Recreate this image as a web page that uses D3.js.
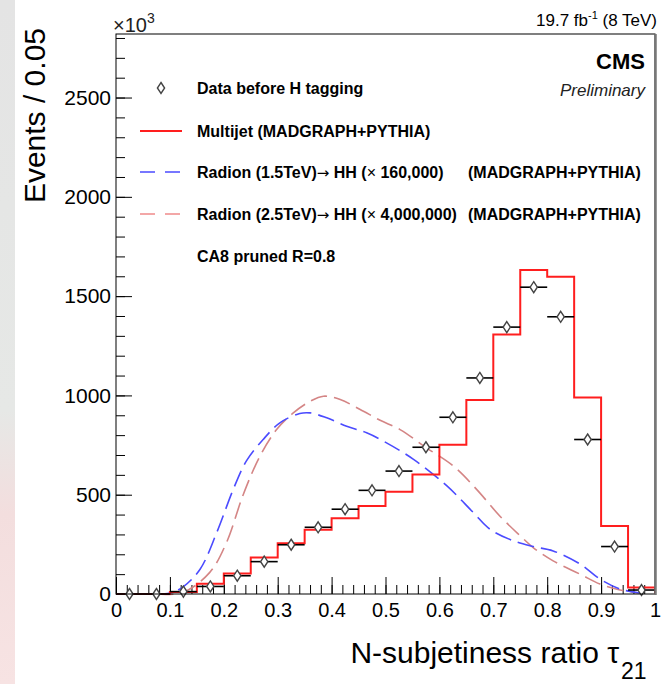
<!DOCTYPE html>
<html><head><meta charset="utf-8">
<script src="https://cdn.jsdelivr.net/npm/d3@7"></script>
<style>
html,body{margin:0;padding:0;background:#fff;}
svg text{font-family:"Liberation Sans",Arial,Helvetica,sans-serif;}
</style></head>
<body>
<svg id="c" width="664" height="684"></svg>
<script>
// ---- data (values in units of 10^3 events) ----
const binLows = [0,0.05,0.1,0.15,0.2,0.25,0.3,0.35,0.4,0.45,0.5,0.55,0.6,0.65,0.7,0.75,0.8,0.85,0.9,0.95];
const binWidth = 0.05;
const dataCounts = [0,0,12,38,92,163,248,336,427,522,619,739,890,1088,1344,1545,1396,778,239,20];
const multijet = [0,0,10,52,103,184,256,323,381,443,515,602,751,977,1307,1631,1598,990,343,33];
const radion15X = [0.072,0.1,0.124,0.156,0.187,0.218,0.242,0.273,0.304,0.341,0.36,0.391,0.428,0.465,0.496,0.552,0.614,0.663,0.694,0.737,0.774,0.811,0.861,0.898,0.935,0.972];
const radion15Y = [0,5,35,125,310,530,670,778,862,909,912,887,845,812,770,678,544,410,326,268,239,217,151,75,25,5];
const radion25X = [0.075,0.124,0.174,0.205,0.236,0.267,0.298,0.329,0.36,0.385,0.416,0.453,0.49,0.527,0.576,0.626,0.669,0.712,0.75,0.774,0.811,0.861,0.898,0.935,0.972];
const radion25Y = [0,8,109,259,500,694,828,912,970,996,979,929,875,828,736,644,527,393,293,234,167,100,50,20,5];
const yMajorTicks = [0,500,1000,1500,2000,2500];
const xMajorTicks = [0,0.1,0.2,0.3,0.4,0.5,0.6,0.7,0.8,0.9,1];
const legendLabels = ["Data before H tagging","Multijet (MADGRAPH+PYTHIA)","Radion (1.5TeV)","Radion (2.5TeV)"];

// ---- layout ----
const L=116, R=655, T=34, B=594;
const svg = d3.select("#c");
const x = d3.scaleLinear().domain([0,1]).range([L,R]);
const y = d3.scaleLinear().domain([0,2820]).range([B,T]);

// background strip (slide background)
const defs = svg.append("defs");
const g1 = defs.append("linearGradient").attr("id","bg").attr("x1",0).attr("x2",0).attr("y1",0).attr("y2",1);
g1.append("stop").attr("offset","0").attr("stop-color","#e4e4e4");
g1.append("stop").attr("offset","0.6").attr("stop-color","#e6e8e6");
g1.append("stop").attr("offset","0.75").attr("stop-color","#f3dede");
g1.append("stop").attr("offset","1").attr("stop-color","#f7e3e3");
svg.append("rect").attr("x",0).attr("y",0).attr("width",15).attr("height",684).attr("fill","url(#bg)");

// ---- axes ----
const yMinor = d3.range(0,2801,100);
svg.append("g").attr("transform",`translate(${L},0)`)
  .call(d3.axisLeft(y).tickValues(yMinor).tickSizeInner(-9).tickSizeOuter(0).tickFormat(""))
  .call(g=>g.select(".domain").remove());
svg.append("g").attr("transform",`translate(${L},0)`)
  .call(d3.axisLeft(y).tickValues(yMajorTicks).tickSizeInner(-16).tickSizeOuter(0).tickPadding(5).tickFormat(d3.format("d")))
  .call(g=>g.select(".domain").remove())
  .call(g=>g.selectAll("text").attr("font-size",21).attr("fill","#000").attr("font-family","Liberation Sans, Arial, sans-serif"));
const xMinor = d3.range(0,1.0001,0.02);
svg.append("g").attr("transform",`translate(0,${B})`)
  .call(d3.axisBottom(x).tickValues(xMinor).tickSizeInner(-9).tickSizeOuter(0).tickFormat(""))
  .call(g=>g.select(".domain").remove());
svg.append("g").attr("transform",`translate(0,${B})`)
  .call(d3.axisBottom(x).tickValues(xMajorTicks).tickSizeInner(-17).tickSizeOuter(0).tickPadding(9).tickFormat(d3.format("~g")))
  .call(g=>g.select(".domain").remove())
  .call(g=>g.selectAll("text").attr("font-size",20).attr("fill","#000").attr("font-family","Liberation Sans, Arial, sans-serif"));
svg.selectAll(".tick line").attr("stroke","#000").attr("stroke-width",1);

// ---- radion curves ----
const line = d3.line().x(d=>x(d[0])).y(d=>y(d[1])).curve(d3.curveCatmullRom.alpha(0.5));
const c25 = radion25X.map((v,i)=>[v,radion25Y[i]]);
const c15 = radion15X.map((v,i)=>[v,radion15Y[i]]);
svg.append("path").attr("d",line(c25)).attr("fill","none").attr("stroke","#d48585").attr("stroke-width",1.6).attr("stroke-dasharray","17,7");
svg.append("path").attr("d",line(c15)).attr("fill","none").attr("stroke","#4b4bff").attr("stroke-width",1.6).attr("stroke-dasharray","17,7");

// ---- multijet histogram ----
let pts = [[0,0]];
binLows.forEach((lo,i)=>{ pts.push([lo,multijet[i]]); pts.push([lo+binWidth,multijet[i]]); });
pts.push([1,0]);
svg.append("path").attr("d",d3.line().x(d=>x(d[0])).y(d=>y(d[1]))(pts))
  .attr("fill","none").attr("stroke","#ff1e1e").attr("stroke-width",2);

// ---- data points ----
const dp = svg.append("g");
binLows.forEach((lo,i)=>{
  dp.append("line").attr("x1",x(lo)).attr("x2",x(lo+binWidth)).attr("y1",y(dataCounts[i])).attr("y2",y(dataCounts[i]))
    .attr("stroke","#000").attr("stroke-width",1.6);
});
const diamond = (cx,cy)=>`M${cx},${cy-5.5}L${cx+3.6},${cy}L${cx},${cy+5.5}L${cx-3.6},${cy}Z`;
binLows.forEach((lo,i)=>{
  dp.append("path").attr("d",diamond(x(lo+binWidth/2),y(dataCounts[i])))
    .attr("fill","#fff").attr("stroke","#444").attr("stroke-width",1.4);
});

// ---- frame ----
svg.append("rect").attr("x",L).attr("y",T).attr("width",R-L).attr("height",B-T)
  .attr("fill","none").attr("stroke","#000").attr("stroke-width",1);
svg.append("line").attr("x1",R+0.5).attr("x2",R+0.5).attr("y1",T).attr("y2",B+1).attr("stroke","#777").attr("stroke-width",2.5);

// ---- texts ----
const t1 = svg.append("text").attr("x",657).attr("y",26).attr("text-anchor","end").attr("font-size",17);
t1.append("tspan").text("19.7 fb");
t1.append("tspan").attr("font-size",11).attr("dy",-7).text("-1");
t1.append("tspan").attr("dy",7).text(" (8 TeV)");
const t2 = svg.append("text").attr("x",113).attr("y",32).attr("font-size",20).attr("fill","#222");
t2.append("tspan").text("×10");
t2.append("tspan").attr("font-size",14).attr("dy",-9).text("3");

svg.append("text").attr("x",645).attr("y",69).attr("text-anchor","end").attr("font-size",22).attr("font-weight","bold").text("CMS");
svg.append("text").attr("x",645).attr("y",96).attr("text-anchor","end").attr("font-size",17).attr("font-style","italic").attr("fill","#222").text("Preliminary");

svg.append("text").attr("transform","translate(45,28) rotate(-90)").attr("text-anchor","end").attr("font-size",30).text("Events / 0.05");
svg.append("text").attr("x",619).attr("y",663).attr("text-anchor","end").attr("font-size",30).text("N-subjetiness ratio τ");
svg.append("text").attr("x",621).attr("y",679).attr("font-size",23).text("21");

// ---- legend ----
const lg = svg.append("g").attr("font-size",16).attr("font-weight","bold");
lg.append("path").attr("d",diamond(161,88)).attr("fill","#fff").attr("stroke","#444").attr("stroke-width",1.4);
lg.append("text").attr("x",197).attr("y",94).text(legendLabels[0]);
lg.append("line").attr("x1",140).attr("x2",182).attr("y1",131).attr("y2",131).attr("stroke","#ff1e1e").attr("stroke-width",2);
lg.append("text").attr("x",197).attr("y",137).text(legendLabels[1]);
lg.append("line").attr("x1",140).attr("x2",182).attr("y1",172).attr("y2",172).attr("stroke","#4b4bff").attr("stroke-width",1.6).attr("stroke-dasharray","15,10");
function radionRow(yy, label, factor){
  const t = lg.append("text").attr("x",197).attr("y",yy);
  t.append("tspan").text(label);
  t.append("tspan").attr("font-weight","normal").attr("font-family","DejaVu Sans, sans-serif").attr("font-size",15).text("→");
  t.append("tspan").text(" HH (");
  t.append("tspan").attr("font-weight","normal").text("× ");
  t.append("tspan").text(factor);
  lg.append("text").attr("x",468).attr("y",yy).text("(MADGRAPH+PYTHIA)");
}
radionRow(178, legendLabels[2], "160,000)");
lg.append("line").attr("x1",140).attr("x2",182).attr("y1",214).attr("y2",214).attr("stroke","#f08a8a").attr("stroke-width",1.6).attr("stroke-dasharray","15,10");
radionRow(220, legendLabels[3], "4,000,000)");
lg.append("text").attr("x",197).attr("y",262).text("CA8 pruned R=0.8");
</script>
</body></html>
